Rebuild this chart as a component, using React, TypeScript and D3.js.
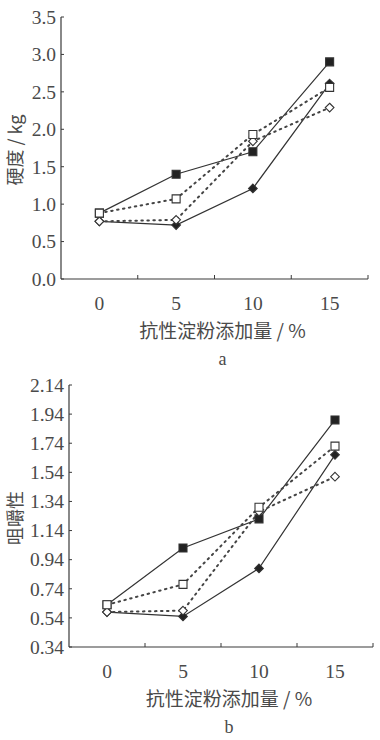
import React from "react";
import * as d3 from "d3";

const xValues = [0, 5, 10, 15];
const xTickLabels = ["0", "5", "10", "15"];

// Chart a: 硬度 / kg
const aFilledSquare = [0.88, 1.4, 1.7, 2.9];
const aOpenSquare = [0.88, 1.07, 1.93, 2.56];
const aFilledDiamond = [0.77, 0.72, 1.21, 2.61];
const aOpenDiamond = [0.77, 0.79, 1.84, 2.29];
const aYTicks = [0.0, 0.5, 1.0, 1.5, 2.0, 2.5, 3.0, 3.5];

// Chart b: 咀嚼性
const bFilledSquare = [0.63, 1.02, 1.22, 1.9];
const bOpenSquare = [0.63, 0.77, 1.3, 1.72];
const bFilledDiamond = [0.58, 0.55, 0.88, 1.66];
const bOpenDiamond = [0.58, 0.59, 1.27, 1.51];
const bYTicks = [0.34, 0.54, 0.74, 0.94, 1.14, 1.34, 1.54, 1.74, 1.94, 2.14];

const xMinorTicks = [2.5, 7.5, 12.5, 17.5];

const TEXT = "#4a4a4a";
const LINE = "#3a3a3a";
const SERIF = "'Liberation Serif', 'DejaVu Serif', serif";
const CJK = "'Noto Sans CJK SC', sans-serif";

type PanelProps = {
  left: number;
  right: number;
  top: number;
  bottom: number;
  yDomain: [number, number];
  yTicks: number[];
  yFormat: (v: number) => string;
  series: { values: number[]; symbol: "fs" | "os" | "fd" | "od" }[];
  yLabel: string;
  yLabelY: number;
  xLabelY: number;
  subLabel: string;
  subLabelY: number;
};

function Panel(p: PanelProps) {
  const x = d3.scaleLinear().domain([-2.5, 17.5]).range([p.left, p.right]);
  const y = d3.scaleLinear().domain(p.yDomain).range([p.bottom, p.top]);
  const line = d3
    .line<number>()
    .x((_, i) => x(xValues[i]))
    .y((d) => y(d));
  const sq = d3.symbol().type(d3.symbolSquare).size(64)()!;
  const di = d3.symbol().type(d3.symbolDiamond2).size(48)()!;
  const cx = (p.left + p.right) / 2;
  const isSolid = (s: string) => s === "fs" || s === "fd";
  return (
    <g>
      {/* axes */}
      <line x1={p.left} x2={p.left} y1={p.top} y2={p.bottom} stroke={LINE} strokeWidth={1.2} />
      <line x1={p.left} x2={p.right} y1={p.bottom} y2={p.bottom} stroke={LINE} strokeWidth={1.2} />
      {p.yTicks.map((t) => (
        <g key={t}>
          <line x1={p.left} x2={p.left + 3} y1={y(t)} y2={y(t)} stroke={LINE} strokeWidth={1} />
          <text
            x={p.left - 5}
            y={y(t)}
            dy="0.35em"
            textAnchor="end"
            fontFamily={SERIF}
            fontSize={19.5}
            fill={TEXT}
          >
            {p.yFormat(t)}
          </text>
        </g>
      ))}
      {xMinorTicks.map((t) => (
        <line key={t} x1={x(t)} x2={x(t)} y1={p.bottom} y2={p.bottom - 4} stroke={LINE} strokeWidth={1} />
      ))}
      {xValues.map((v, i) => (
        <text
          key={v}
          x={x(v)}
          y={p.bottom + 31}
          textAnchor="middle"
          fontFamily={SERIF}
          fontSize={19.5}
          fill={TEXT}
        >
          {xTickLabels[i]}
        </text>
      ))}
      {/* lines */}
      {p.series.map((s, k) => (
        <path
          key={k}
          d={line(s.values)!}
          fill="none"
          stroke={isSolid(s.symbol) ? "#333" : "#444"}
          strokeWidth={isSolid(s.symbol) ? 1.2 : 2}
          strokeDasharray={isSolid(s.symbol) ? undefined : "1.5,4.5"}
          strokeLinecap="round"
        />
      ))}
      {/* markers */}
      {p.series.map((s, k) =>
        s.values.map((v, i) => (
          <path
            key={k + "-" + i}
            d={s.symbol === "fs" || s.symbol === "os" ? sq : di}
            transform={`translate(${x(xValues[i])},${y(v)})`}
            fill={isSolid(s.symbol) ? "#222" : "#fff"}
            stroke="#333"
            strokeWidth={1.1}
          />
        ))
      )}
      {/* labels */}
      <text
        transform={`translate(16,${p.yLabelY}) rotate(-90)`}
        textAnchor="middle"
        dy="0.35em"
        fontFamily={CJK}
        fontSize={18}
        fill={TEXT}
      >
        {p.yLabel}
      </text>
      <text
        x={cx + 8}
        y={p.xLabelY}
        textAnchor="middle"
        fontFamily={CJK}
        fontSize={19}
        fill={TEXT}
      >
        抗性淀粉添加量 / %
      </text>
      <text x={cx + 8} y={p.subLabelY} textAnchor="middle" fontFamily={SERIF} fontSize={18} fill={TEXT}>
        {p.subLabel}
      </text>
    </g>
  );
}

export default function App() {
  return (
    <svg
      width={380}
      height={740}
      style={{ position: "absolute", left: 0, top: 0, background: "#fff" }}
    >
      <rect width={380} height={740} fill="#fff" />
      <Panel
        left={61}
        right={368}
        top={17}
        bottom={279}
        yDomain={[0, 3.5]}
        yTicks={aYTicks}
        yFormat={(v) => v.toFixed(1)}
        series={[
          { values: aFilledDiamond, symbol: "fd" },
          { values: aFilledSquare, symbol: "fs" },
          { values: aOpenDiamond, symbol: "od" },
          { values: aOpenSquare, symbol: "os" },
        ]}
        yLabel="硬度 / kg"
        yLabelY={150}
        xLabelY={338}
        subLabel="a"
        subLabelY={365}
      />
      <Panel
        left={69}
        right={373}
        top={385}
        bottom={647}
        yDomain={[0.34, 2.14]}
        yTicks={bYTicks}
        yFormat={(v) => v.toFixed(2)}
        series={[
          { values: bFilledDiamond, symbol: "fd" },
          { values: bFilledSquare, symbol: "fs" },
          { values: bOpenDiamond, symbol: "od" },
          { values: bOpenSquare, symbol: "os" },
        ]}
        yLabel="咀嚼性"
        yLabelY={518}
        xLabelY={706}
        subLabel="b"
        subLabelY={733}
      />
    </svg>
  );
}
